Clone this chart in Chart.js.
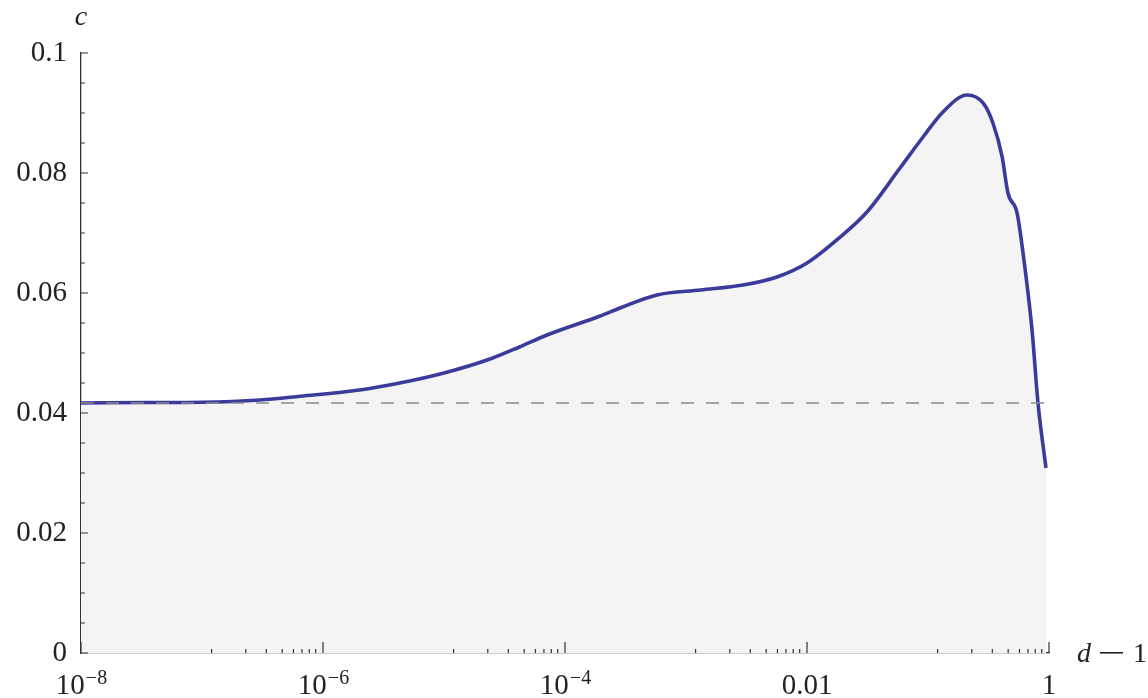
<!DOCTYPE html>
<html>
<head>
<meta charset="utf-8">
<script src="https://cdn.jsdelivr.net/npm/chart.js@4"></script>
<style>
  html, body { margin: 0; padding: 0; background: #fff; }
  #wrap { width: 1148px; height: 698px; position: relative; }
</style>
</head>
<body>
<div id="wrap"><canvas id="chart"></canvas></div>
<script>
// d - 1 values (log axis) and c
const dMinus1 = [1e-8, 3.7e-8, 1e-7, 3.0e-7, 6.5e-7, 2.0e-6, 4.3e-6, 1e-5, 2.4e-5, 4.2e-5,
    7.1e-5, 1.95e-4, 2.85e-4, 5.75e-4, 1.32e-3, 2.96e-3, 5.65e-3, 0.01, 0.0188, 0.0313,
    0.0587, 0.091, 0.133, 0.21, 0.285, 0.344, 0.41, 0.458, 0.545, 0.61, 0.724, 0.811, 0.944];
const cValues = [0.04167, 0.04175, 0.0418, 0.04217, 0.0428, 0.04383, 0.045, 0.04667, 0.049, 0.051,
    0.053, 0.05617, 0.0575, 0.05967, 0.0605, 0.06133, 0.06267, 0.065, 0.06933, 0.0735,
    0.08083, 0.086, 0.09017, 0.093, 0.09167, 0.08833, 0.08267, 0.07667, 0.07333, 0.06667,
    0.05383, 0.04167, 0.03083];

// reference level (dashed), runs slightly past the last tick
const refLevel = 0.041667;
const refRange = [1e-8, 1.05];

// tick marks and labels
const xMajorTicks = [1e-8, 1e-6, 1e-4, 0.01, 1];
const xTickLabels = ['10^-8', '10^-6', '10^-4', '0.01', '1'];
const xMinorFactors = [0.12, 0.23, 0.34, 0.46, 0.57, 0.67, 0.77, 0.87];
const yMajorTicks = [0, 0.02, 0.04, 0.06, 0.08, 0.1];
const yMinorStep = 0.005;

const FONT = '"Liberation Serif", "DejaVu Serif", serif';
const TEXT = '#222';

const axisDecor = {
    id: 'axisDecor',
    afterDraw(chart) {
        const ctx = chart.ctx;
        const xs = chart.scales.x, ys = chart.scales.y;
        const y0 = ys.getPixelForValue(0);
        const x0 = xs.getPixelForValue(1e-8);
        ctx.save();
        ctx.strokeStyle = '#333';
        ctx.lineWidth = 1.2;
        ctx.beginPath();
        // x ticks, pointing up
        xMajorTicks.forEach(v => {
            const px = xs.getPixelForValue(v);
            ctx.moveTo(px, y0); ctx.lineTo(px, y0 - 11);
        });
        xMajorTicks.slice(1).forEach(m => {
            xMinorFactors.forEach(f => {
                const px = xs.getPixelForValue(m * f);
                ctx.moveTo(px, y0); ctx.lineTo(px, y0 - 4);
            });
        });
        // y ticks, pointing right
        for (let v = 0; v <= 0.1 + 1e-9; v += yMinorStep) {
            const py = ys.getPixelForValue(v);
            const major = Math.abs(v / 0.02 - Math.round(v / 0.02)) < 1e-6;
            ctx.moveTo(x0, py); ctx.lineTo(x0 + (major ? 7 : 4), py);
        }
        ctx.stroke();

        // x labels with superscripts
        ctx.fillStyle = TEXT;
        ctx.textBaseline = 'alphabetic';
        xMajorTicks.forEach((v, i) => {
            const px = xs.getPixelForValue(v);
            const parts = xTickLabels[i].split('^');
            const base = parts[0];
            const sup = parts[1] ? parts[1].replace('-', '\u2212') : '';
            ctx.font = '29px ' + FONT;
            const wb = ctx.measureText(base).width;
            ctx.font = '20px ' + FONT;
            const ws = sup ? ctx.measureText(sup).width : 0;
            const left = px - (wb + ws) / 2;
            ctx.font = '29px ' + FONT;
            ctx.textAlign = 'left';
            ctx.fillText(base, left, 694);
            if (sup) {
                ctx.font = '20px ' + FONT;
                ctx.fillText(sup, left + wb + 1, 684);
            }
        });

        // axis titles
        ctx.font = 'italic 28px ' + FONT;
        ctx.textAlign = 'center';
        ctx.fillText('c', x0, 25);
        ctx.textAlign = 'left';
        ctx.fillText('d', 1077, 662);
        ctx.font = '28px ' + FONT;
        ctx.fillText('1', 1133, 662);
        ctx.fillRect(1100, 652, 23, 1.6);
        ctx.restore();
    }
};

new Chart(document.getElementById('chart'), {
    type: 'line',
    data: {
        datasets: [{
            label: 'reference',
            data: refRange.map(d => ({x: d, y: refLevel})),
            borderColor: '#8a8a8a',
            borderWidth: 1.6,
            borderDash: [13, 12],
            pointRadius: 0,
            clip: false,
            fill: false
        }, {
            label: 'c',
            data: dMinus1.map((d, i) => ({x: d, y: cValues[i]})),
            borderColor: '#3b3b9b',
            borderWidth: 3.6,
            backgroundColor: '#f4f4f4',
            fill: 'origin',
            cubicInterpolationMode: 'monotone',
            pointRadius: 0
        }]
    },
    options: {
        responsive: true,
        maintainAspectRatio: false,
        animation: false,
        layout: { padding: { left: 0, top: 53, right: 99, bottom: 0 } },
        plugins: { legend: { display: false }, tooltip: { enabled: false } },
        scales: {
            x: {
                type: 'logarithmic',
                min: 1e-8,
                max: 1,
                grid: { display: false, drawTicks: false },
                border: { display: true, color: '#333', width: 1.3 },
                ticks: { display: false },
                afterFit(scale) { scale.height = 45; }
            },
            y: {
                min: 0,
                max: 0.1,
                afterBuildTicks(scale) { scale.ticks = yMajorTicks.map(v => ({value: v})); },
                grid: { display: false, drawTicks: false },
                border: { display: true, color: '#333', width: 1.3 },
                ticks: {
                    padding: 14,
                    color: TEXT,
                    font: { family: FONT, size: 29 },
                    callback: v => String(parseFloat(v.toFixed(3)))
                },
                afterFit(scale) { scale.width = 81; }
            }
        }
    },
    plugins: [axisDecor]
});
</script>
</body>
</html>
